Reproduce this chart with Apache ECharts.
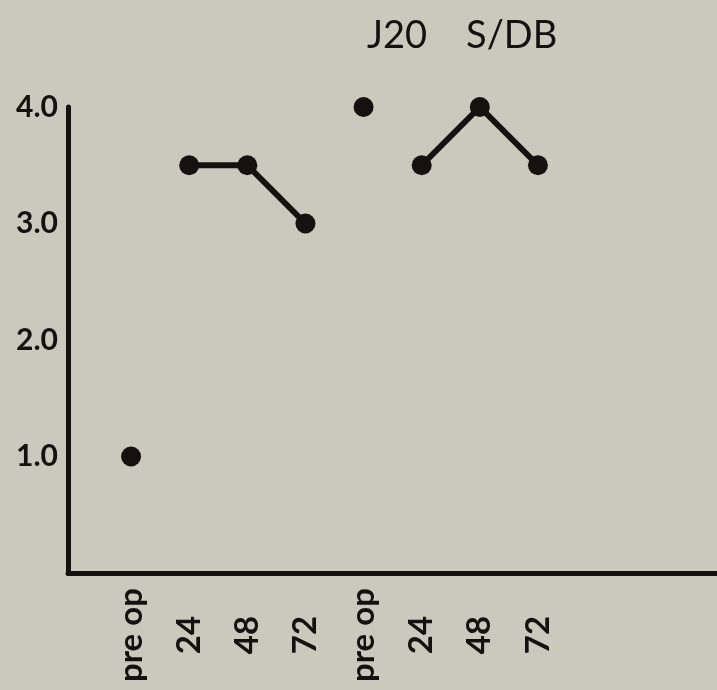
<!DOCTYPE html>
<html>
<head>
<meta charset="utf-8">
<script src="https://cdn.jsdelivr.net/npm/echarts@6/dist/echarts.min.js"></script>
<style>
html,body{margin:0;padding:0;background:#cbc9be;}
#c{width:717px;height:690px;}
</style>
</head>
<body>
<div id="c"></div>
<script>
// Category labels along the x axis (two groups)
var categories = ["pre op", "24", "48", "72", "pre op", "24", "48", "72"];
// Group 1 (first four categories)
var group1PreOp = [1.0];
var group1Post = [3.5, 3.5, 3.0];
// Group 2 (last four categories)
var group2PreOp = [4.0];
var group2Post = [3.5, 4.0, 3.5];
// Y tick labels
var yTicks = [1, 2, 3, 4];
var titleText = "J20    S/DB";

function pts(startIndex, values) {
  return values.map(function (v, i) { return [startIndex + i, v]; });
}

var ink = '#16100f';
var chart = echarts.init(document.getElementById('c'), null, {renderer: 'canvas'});
chart.setOption({
  backgroundColor: '#cbc9be',
  animation: false,
  title: {
    text: titleText,
    left: 362, top: 12,
    textStyle: {fontFamily: 'Lato', fontSize: 38, fontWeight: 'normal', color: ink}
  },
  grid: {left: 68, right: 0, top: 107, bottom: 117, containLabel: false},
  xAxis: {
    type: 'value',
    min: -1.085, max: 10.08,
    splitLine: {show: false},
    axisTick: {show: false},
    axisLine: {show: true, onZero: false, lineStyle: {color: ink, width: 5}},
    axisLabel: {
      customValues: categories.map(function (c, i) { return i; }),
      formatter: function (v) { return categories[Math.round(v)]; },
      rotate: 90,
      align: 'center',
      verticalAlign: 'middle',
      margin: 62,
      fontFamily: 'Lato', fontSize: 33, fontWeight: 'bold', color: ink
    }
  },
  yAxis: {
    type: 'value',
    min: 0, max: 4, interval: 1,
    splitLine: {show: false},
    axisTick: {show: false},
    axisLine: {show: true, onZero: false, lineStyle: {color: ink, width: 5}},
    axisLabel: {
      customValues: yTicks,
      formatter: function (v) { return v.toFixed(1); },
      margin: 10,
      fontFamily: 'Lato', fontSize: 30, fontWeight: 'bold', color: ink
    }
  },
  series: [
    {type: 'scatter', data: pts(0, group1PreOp), symbolSize: 20, itemStyle: {color: ink, opacity: 1}},
    {type: 'line', data: pts(1, group1Post), symbol: 'circle', symbolSize: 20,
     lineStyle: {color: ink, width: 6}, itemStyle: {color: ink, opacity: 1}},
    {type: 'scatter', data: pts(4, group2PreOp), symbolSize: 20, itemStyle: {color: ink, opacity: 1}},
    {type: 'line', data: pts(5, group2Post), symbol: 'circle', symbolSize: 20,
     lineStyle: {color: ink, width: 6}, itemStyle: {color: ink, opacity: 1}}
  ]
});
</script>
</body>
</html>
